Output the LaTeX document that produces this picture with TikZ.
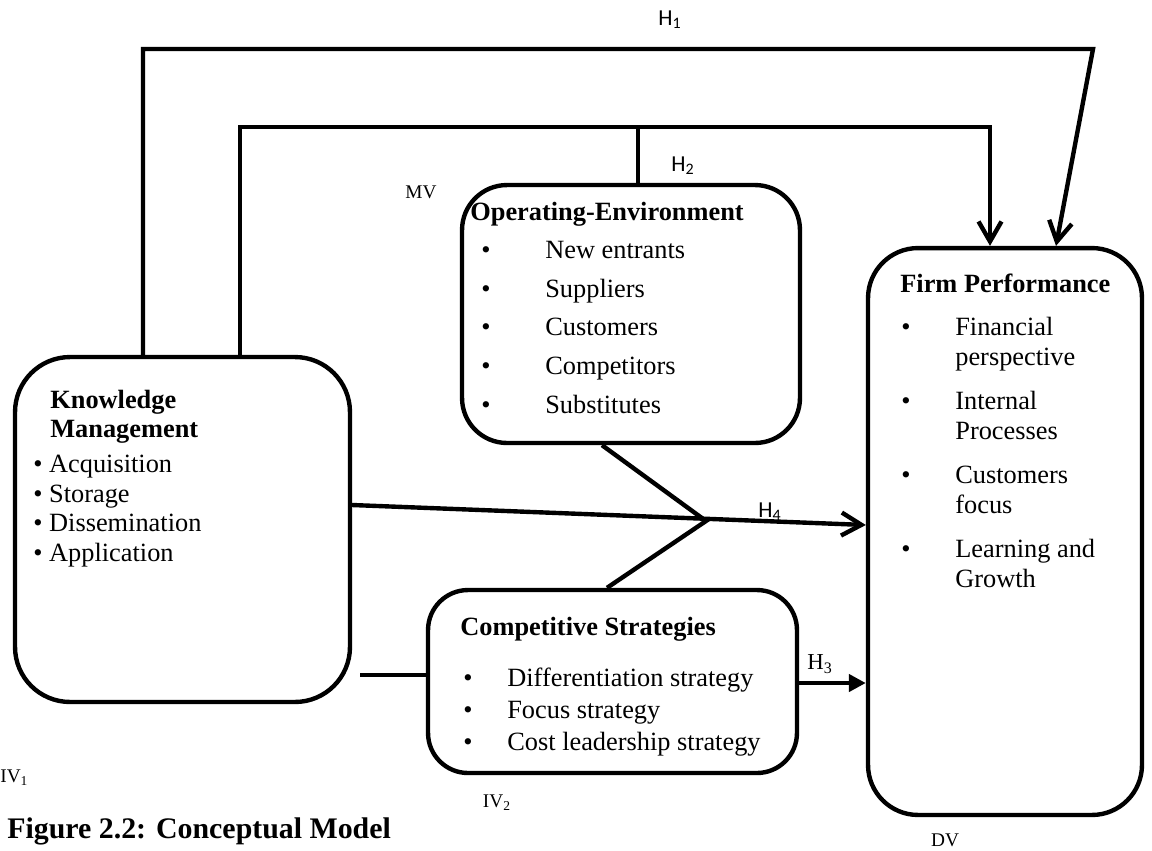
\documentclass[tikz,border=0pt]{standalone}
\usepackage{fontspec}
\setmainfont{Liberation Serif}
\newfontfamily\hfont{Carlito}
\usetikzlibrary{arrows.meta}
\tikzset{
  blk/.style={draw, line width=2.5pt, rounded corners=#1, inner sep=0pt},
  conn/.style={line width=2.5pt},
  barb/.style={-{Straight Barb[length=0.4cm,width=0.46cm]}},
  hlab/.style={font=\hfont\fontsize{13}{15}\selectfont, inner sep=0pt},
  slab/.style={font=\fontsize{13}{15}\selectfont, inner sep=0pt},
  vlab/.style={font=\fontsize{11}{13}\selectfont, inner sep=0pt},
  lst/.style={font=\fontsize{15}{17}\selectfont, inner sep=0pt, anchor=base west},
}
\newcommand{\bul}[1]{\makebox[#1][l]{\textbullet}}

\begin{document}
\begin{tikzpicture}[x=0.02cm, y=-0.02cm]
    \useasboundingbox (0,0) rectangle (1152,850);
    % boxes
    \node[blk=1.1cm, minimum width=6.7cm, minimum height=6.9cm] (km) at (182.5,529.5) {};
    \node[blk=0.9cm, minimum width=6.76cm, minimum height=5.16cm] (oe) at (631,314) {};
    \node[blk=0.8cm, minimum width=7.38cm, minimum height=3.66cm] (cs) at (612.5,681.5) {};
    \node[blk=1cm, minimum width=5.48cm, minimum height=11.34cm] (fp) at (1005,531.5) {};
    % box texts
    \node[lst] (kmtxt) at (33,408) {\begin{tabular}[t]{@{}l@{}}
        \hspace{0.34cm}\textbf{Knowledge}\\
        \hspace{0.34cm}\textbf{Management}\\[2.5pt]
        \textbullet\ Acquisition\\
        \textbullet\ Storage\\
        \textbullet\ Dissemination\\
        \textbullet\ Application
        \end{tabular}};
    \node[lst] (oetxt) at (470,220) {\begin{tabular}[t]{@{}l@{}l@{}}
        \multicolumn{2}{@{}l@{}}{\textbf{Operating-Environment}}\\[5pt]
        \hspace{0.22cm}\bul{1.28cm} & New entrants\\[5pt]
        \hspace{0.22cm}\bul{1.28cm} & Suppliers\\[5pt]
        \hspace{0.22cm}\bul{1.28cm} & Customers\\[5pt]
        \hspace{0.22cm}\bul{1.28cm} & Competitors\\[5pt]
        \hspace{0.22cm}\bul{1.28cm} & Substitutes
        \end{tabular}};
    \node[lst] (cstxt) at (460,635) {\begin{tabular}[t]{@{}l@{}l@{}}
        \multicolumn{2}{@{}l@{}}{\textbf{Competitive Strategies}}\\[12.5pt]
        \hspace{0.06cm}\bul{0.88cm} & Differentiation strategy\\[1.2pt]
        \hspace{0.06cm}\bul{0.88cm} & Focus strategy\\[1.2pt]
        \hspace{0.06cm}\bul{0.88cm} & Cost leadership strategy
        \end{tabular}};
    \node[lst] (fptxt) at (900,292) {\begin{tabular}[t]{@{}l@{}l@{}}
        \multicolumn{2}{@{}l@{}}{\textbf{Firm Performance}}\\[8pt]
        \hspace{0.02cm}\bul{1.08cm} & Financial\\
        & perspective\\[8pt]
        \hspace{0.02cm}\bul{1.08cm} & Internal\\
        & Processes\\[8pt]
        \hspace{0.02cm}\bul{1.08cm} & Customers\\
        & focus\\[8pt]
        \hspace{0.02cm}\bul{1.08cm} & Learning and\\
        & Growth
        \end{tabular}};
    % H1 and H2 paths
    \coordinate (h1a) at (143,49);
    \coordinate (h1b) at (1093,49);
    \coordinate (h1c) at (1056,248);
    \coordinate (h2a) at (240,127);
    \coordinate (h2b) at (990,127);
    \coordinate (h2m) at (638,127);
    \draw[conn, barb] (km.north -| h1a) -- (h1a) -- (h1b) -- (fp.north -| h1c);
    \draw[conn, barb] (km.north -| h2a) -- (h2a) -- (h2b) -- (fp.north -| h2b);
    \draw[conn] (h2m) -- (oe.north -| h2m);
    % H4 with the two moderating branches
    \coordinate (h4s) at (0,505);
    \coordinate (h4e) at (0,525);
    \coordinate (vj) at (706,521);
    \coordinate (vtop) at (602,0);
    \coordinate (vbot) at (607,0);
    \draw[conn, barb] (km.east |- h4s) -- (fp.west |- h4e);
    \draw[conn] (oe.south -| vtop) -- (vj) -- (cs.north -| vbot);
    % H3 and KM to CS
    \coordinate (h3) at (0,683);
    \coordinate (kc) at (0,675);
    \draw[conn, -{Triangle[length=0.34cm,width=0.34cm]}] (cs.east |- h3) -- (fp.west |- h3);
    \draw[conn, shorten <=0.16cm] (km.east |- kc) -- (cs.west |- kc);
    % labels
    \node[hlab] (l1) at (670,20) {H\textsubscript{1}};
    \node[hlab] (l2) at (683,166) {H\textsubscript{2}};
    \node[hlab] (l4) at (770,512) {H\textsubscript{4}};
    \node[slab] (l3) at (820,664) {H\textsubscript{3}};
    \node[vlab] (mv) at (421,192) {MV};
    \node[vlab, anchor=west] (iv1) at (0,778) {IV\textsubscript{1}};
    \node[vlab] (iv2) at (497,803) {IV\textsubscript{2}};
    \node[vlab] (dv) at (945,840) {DV};
    \node[anchor=base west, inner sep=0pt, font=\bfseries\fontsize{17}{20}\selectfont] (cap) at (7,838) {Figure 2.2: Conceptual Model};
\end{tikzpicture}
\end{document}
